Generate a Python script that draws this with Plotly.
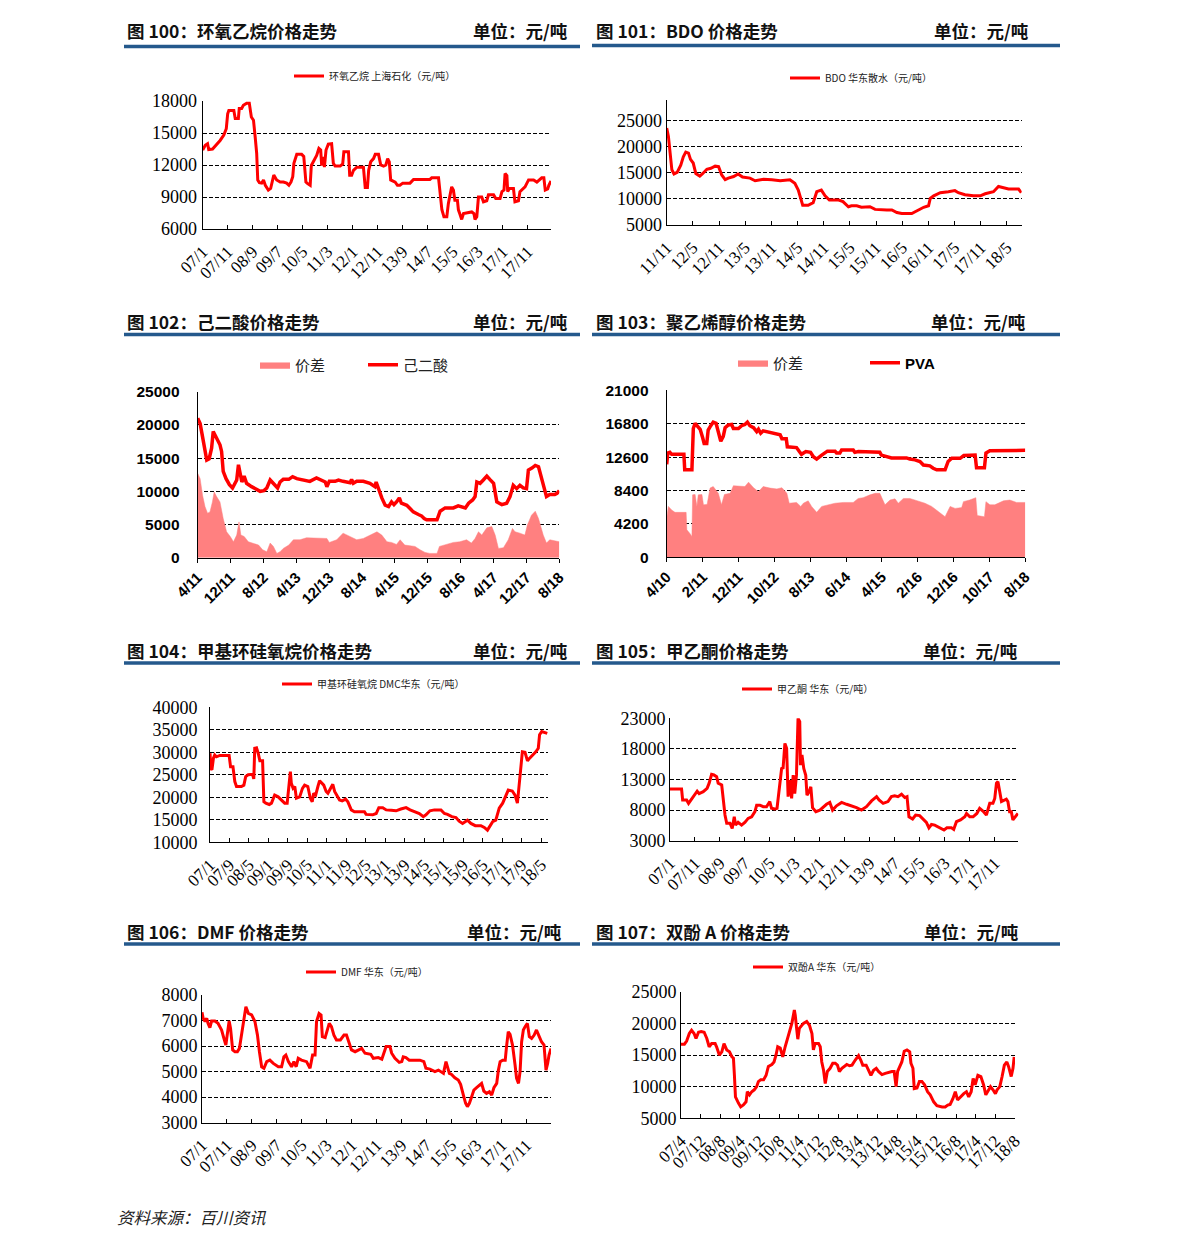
import plotly.graph_objects as go
import pandas as pd

PAGE_W, PAGE_H = 1191, 1247
BODY = 8  # default page margin around the figure
W, H = PAGE_W - 2 * BODY, PAGE_H - 2 * BODY

# ================= DATA =================
# 图100 环氧乙烷 上海石化
eo_dates = ["2007-01-01","2007-02-01","2007-03-01","2007-03-15","2007-05-01","2007-06-15","2007-08-01","2007-09-15","2007-10-15","2007-11-01",
            "2007-11-15","2008-01-15","2008-02-01","2008-03-10","2008-03-21","2008-04-19","2008-05-10","2008-06-19","2008-07-21","2008-08-15",
            "2008-09-10","2008-10-01","2008-10-19","2008-11-01","2008-11-21","2008-12-19","2009-01-10","2009-02-01","2009-03-10","2009-04-07",
            "2009-05-15","2009-06-19","2009-08-01","2009-09-10","2009-10-19","2009-11-15","2009-12-10","2010-01-01","2010-01-15","2010-02-19",
            "2010-04-19","2010-05-15","2010-06-10","2010-07-01","2010-08-01","2010-08-15","2010-09-15","2010-10-19","2010-11-15","2010-12-07",
            "2010-12-19","2011-01-10","2011-01-21","2011-02-10","2011-03-10","2011-04-19","2011-05-10","2011-06-01","2011-08-01","2011-09-01",
            "2011-09-15","2011-11-10","2011-11-25","2011-12-19","2012-01-10","2012-02-19","2012-05-10","2012-06-01","2012-06-28","2012-07-13",
            "2012-08-07","2012-09-10","2012-10-01","2012-11-10","2012-12-07","2013-01-10","2013-02-07","2013-03-01","2013-03-21","2013-04-07",
            "2013-06-01","2013-06-28","2013-07-28","2013-09-01","2013-11-28","2014-01-10","2014-07-28","2014-08-19","2014-11-10","2014-11-28",
            "2014-12-21","2015-01-15","2015-02-19","2015-03-10","2015-03-28","2015-04-19","2015-05-10","2015-05-28","2015-06-28","2015-07-10",
            "2015-07-28","2015-08-19","2015-09-10","2015-12-19","2016-01-15","2016-01-28","2016-02-19","2016-02-28","2016-03-10","2016-04-19",
            "2016-05-10","2016-06-19","2016-07-10","2016-09-10","2016-10-07","2016-11-28","2016-12-21","2017-01-15","2017-01-28","2017-02-19",
            "2017-03-01","2017-03-21","2017-05-10","2017-05-28","2017-07-10","2017-07-28","2017-09-01","2017-09-28","2017-11-10","2018-01-10",
            "2018-02-19","2018-04-19","2018-05-15","2018-06-01","2018-07-01","2018-07-15","2018-08-10"]
eo_price = [13400,13850,14000,13450,13500,13850,14300,14800,15400,16800,
            17100,17100,16350,16350,17300,17300,17600,17800,17800,16500,
            16200,14600,13100,10600,10350,10300,10600,10100,9650,9800,
            11050,10600,10400,10400,10300,10100,10400,10900,12150,13000,
            13000,12800,10400,10250,10100,11950,12450,12900,13550,13400,
            11950,12750,11800,13400,13950,14000,12150,11900,11900,12100,
            13250,13250,11050,11050,11500,11800,11800,9900,9900,11500,
            12300,12600,13000,13000,12000,11900,12000,12600,12300,10600,
            10400,10100,10100,10300,10300,10650,10650,10800,10800,9650,
            7800,7150,7150,8400,9000,9950,9650,8700,8700,7800,
            7400,6900,7450,7600,7450,6900,7150,8100,9000,9000,
            8550,8650,9200,9200,8850,8850,9500,9650,11200,11000,
            9500,9800,9800,8550,8650,9500,9800,9950,10600,10600,
            10400,10800,10800,9650,9750,10100,10500]
eo_ticktext = ["07/1","07/11","08/9","09/7","10/5","11/3","12/1","12/11","13/9","14/7","15/5","16/3","17/1","17/11"]

# 图101 BDO 华东散水
bdo_dates = ["2011-11-01","2011-11-13","2011-11-25","2011-12-07","2011-12-22","2012-01-13","2012-02-07","2012-02-25","2012-03-13","2012-04-01",
             "2012-04-15","2012-05-04","2012-05-22","2012-06-19","2012-07-10","2012-08-07","2012-09-04","2012-10-04","2012-10-28","2012-11-19",
             "2012-12-13","2013-01-04","2013-02-10","2013-03-13","2013-04-13","2013-06-04","2013-07-10","2013-09-07","2013-11-04","2014-01-01",
             "2014-03-10","2014-04-13","2014-05-07","2014-06-07","2014-07-15","2014-08-19","2014-09-13","2014-10-15","2014-11-10","2014-12-10",
             "2015-02-13","2015-03-15","2015-04-22","2015-05-13","2015-06-19","2015-07-22","2015-09-19","2015-10-25","2016-01-15","2016-02-19",
             "2016-03-25","2016-04-28","2016-07-07","2016-08-25","2016-09-28","2016-11-01","2016-11-13","2016-12-07","2017-01-22","2017-03-19",
             "2017-05-04","2017-05-28","2017-07-13","2017-09-10","2017-10-28","2017-12-01","2018-01-07","2018-01-28","2018-03-04","2018-04-07",
             "2018-05-13","2018-07-22","2018-08-10"]
bdo_price = [23600,22000,18800,15600,14800,15100,16500,18100,19000,18800,
             17600,16900,14900,14400,14900,15700,15900,16300,16200,14600,
             13700,14000,14300,14800,14200,14000,13500,13800,13700,13500,
             13700,13000,11700,8800,8800,9300,11400,11700,10600,9800,
             9800,9500,8500,8700,8700,8400,8500,8000,7900,7900,
             7400,7200,7200,7900,8400,8700,10100,10600,11200,11400,
             11600,11200,10800,10600,10600,11000,11200,11400,12400,12200,
             11900,11900,11200]
bdo_ticktext = ["11/11","12/5","12/11","13/5","13/11","14/5","14/11","15/5","15/11","16/5","16/11","17/5","17/11","18/5"]

# 图102 己二酸
aa_dates = ["2011-04-01","2011-04-19","2011-05-07","2011-05-25","2011-06-07","2011-06-25","2011-07-13","2011-07-25","2011-08-07","2011-08-25",
            "2011-09-13","2011-09-25","2011-10-07","2011-10-28","2011-11-22","2011-12-15","2012-01-04","2012-01-15","2012-01-28","2012-02-10",
            "2012-02-22","2012-03-10","2012-03-28","2012-05-04","2012-06-13","2012-07-07","2012-08-04","2012-08-25","2012-09-19","2012-10-13",
            "2012-11-13","2012-12-01","2012-12-25","2013-02-04","2013-03-04","2013-04-04","2013-06-04","2013-07-10","2013-08-28","2013-10-07",
            "2013-11-01","2013-11-13","2013-12-01","2014-01-13","2014-02-07","2014-03-13","2014-05-04","2014-05-15","2014-05-28","2014-06-22",
            "2014-08-10","2014-09-28","2014-11-04","2014-11-13","2014-12-01","2014-12-25","2015-01-19","2015-02-13","2015-03-07","2015-03-25",
            "2015-04-13","2015-05-04","2015-05-19","2015-06-28","2015-07-22","2015-08-15","2015-09-22","2015-10-15","2015-11-04","2015-11-22",
            "2015-12-28","2016-02-07","2016-03-01","2016-04-07","2016-06-07","2016-07-13","2016-09-04","2016-09-28","2016-10-28","2016-11-15",
            "2016-11-28","2016-12-22","2017-01-15","2017-02-10","2017-03-04","2017-04-01","2017-04-25","2017-06-01","2017-07-07","2017-08-01",
            "2017-08-25","2017-09-19","2017-10-13","2017-11-07","2017-12-01","2017-12-15","2018-01-10","2018-02-04","2018-02-28","2018-03-22",
            "2018-04-10","2018-04-28","2018-05-22","2018-06-28","2018-07-15","2018-08-01"]
aa_price = [21000,20200,18200,16000,14700,14900,16500,19000,18500,17700,
            17000,16000,13000,11900,11000,10500,11400,11700,14000,12400,
            11400,12300,11200,10700,10300,10000,10100,10500,11700,11200,
            10500,11400,11800,11800,12200,11900,11700,11500,12000,11700,
            11400,10700,11500,11500,11700,11500,11300,11800,11200,11500,
            11500,11200,10700,11400,10200,9000,7900,7700,8400,8000,
            8400,9000,8200,7900,7400,6900,6500,6300,5900,5700,
            5700,5700,7000,7500,7500,7800,7500,8200,8700,9200,
            11400,11200,11700,12300,11800,11200,8400,8000,8200,9200,
            10900,10400,10900,10500,10400,13200,13500,13900,13700,11900,
            10200,9200,9500,9500,9700,10100]
aa_spread_dates = ["2011-04-01","2011-04-19","2011-05-07","2011-05-25","2011-06-13","2011-07-01","2011-07-19","2011-08-01","2011-08-19","2011-09-13",
                   "2011-10-07","2011-11-01","2011-11-28","2011-12-22","2012-01-15","2012-02-01","2012-02-15","2012-03-10","2012-04-10","2012-05-15",
                   "2012-06-25","2012-07-25","2012-08-25","2012-09-19","2012-10-13","2012-11-07","2012-12-01","2012-12-25","2013-02-04","2013-03-10",
                   "2013-04-28","2013-06-15","2013-08-04","2013-09-25","2013-11-13","2013-12-01","2014-01-25","2014-03-13","2014-05-04","2014-06-22",
                   "2014-08-10","2014-09-28","2014-11-19","2014-12-25","2015-02-01","2015-03-07","2015-04-13","2015-05-10","2015-06-13","2015-07-22",
                   "2015-08-28","2015-10-04","2015-11-10","2015-12-15","2016-02-07","2016-02-25","2016-04-07","2016-06-07","2016-07-25","2016-09-13",
                   "2016-10-19","2016-11-15","2016-12-10","2017-01-04","2017-02-10","2017-03-19","2017-04-13","2017-05-07","2017-06-13","2017-07-19",
                   "2017-08-19","2017-09-07","2017-10-13","2017-11-19","2017-12-07","2018-01-07","2018-02-04","2018-02-28","2018-04-04","2018-04-28",
                   "2018-05-22","2018-06-28","2018-08-01"]
aa_spread = [12700,11900,9400,7700,6700,6900,8400,9900,9200,8400,
             5900,3900,3200,2400,3400,5400,3400,3200,2400,2200,
             1900,1200,900,2200,1700,650,900,1400,1900,2700,
             2700,3000,3000,3000,2900,2300,2700,3700,3200,2700,
             2900,3400,3900,3400,2400,2300,2000,2700,1900,1800,
             1700,1200,800,650,650,1700,1900,2300,2400,2700,
             2200,2900,3900,3400,4500,4700,3400,1400,1500,2700,
             4400,3900,3700,3400,4900,6400,7000,5900,3400,2200,
             2700,2500,2400]
aa_ticktext = ["4/11","12/11","8/12","4/13","12/13","8/14","4/15","12/15","8/16","4/17","12/17","8/18"]

# 图103 聚乙烯醇 PVA
pva_dates = ["2010-04-01","2010-04-10","2010-04-28","2010-05-13","2010-08-25","2010-09-01","2010-11-01","2010-11-07","2010-11-13","2010-11-28",
             "2010-12-19","2011-01-10","2011-02-01","2011-02-13","2011-03-07","2011-03-19","2011-04-10","2011-05-01","2011-05-25","2011-06-13",
             "2011-07-04","2011-07-25","2011-08-10","2011-09-07","2011-10-04","2011-10-19","2011-12-01","2011-12-28","2012-01-25","2012-02-15",
             "2012-03-07","2012-04-07","2012-05-04","2012-05-19","2012-06-07","2012-06-28","2012-08-25","2012-10-07","2012-11-19","2012-12-04",
             "2013-01-10","2013-01-19","2013-04-07","2013-05-01","2013-05-19","2013-06-25","2013-08-04","2013-08-28","2013-09-25","2013-11-07",
             "2013-12-25","2014-02-28","2014-03-13","2014-04-10","2014-04-25","2014-08-01","2014-08-15","2014-09-13","2014-11-25","2014-12-22",
             "2015-03-15","2015-03-28","2015-05-10","2015-06-22","2015-10-28","2015-11-25","2016-01-07","2016-02-19","2016-03-19","2016-05-13",
             "2016-06-10","2016-07-10","2016-09-19","2016-10-15","2016-11-15","2017-01-25","2017-02-25","2017-06-01","2017-06-13","2017-08-19",
             "2017-09-01","2017-10-04","2018-08-01"]
pva_price = [11700,13100,13200,12950,12950,11000,11000,15200,16200,16850,
             16400,16100,15000,14300,14300,16000,16550,17000,16850,15600,
             14600,15200,16300,16650,16700,16200,16200,16550,16700,17000,
             16550,16300,15800,16100,15600,15900,15700,15600,15400,14900,
             14900,13900,13800,13300,12950,13300,13200,12650,12350,12850,
             13350,13350,13100,13100,13500,13500,13200,13300,13300,13200,
             13200,12850,12650,12500,12500,12350,12250,12050,11600,11500,
             11200,11000,11000,12050,12450,12450,12800,12850,11250,11250,
             13100,13400,13450]
pva_spread_dates = ["2010-04-01","2010-04-15","2010-05-13","2010-06-10","2010-09-13","2010-09-19","2010-10-15","2010-11-01","2010-11-07","2010-11-28",
                    "2010-12-13","2010-12-25","2011-01-25","2011-02-07","2011-03-10","2011-04-04","2011-05-01","2011-06-13","2011-07-10","2011-08-04",
                    "2011-09-22","2011-10-19","2012-01-25","2012-02-25","2012-04-07","2012-05-19","2012-06-28","2012-08-25","2012-10-22","2012-12-04",
                    "2013-01-15","2013-02-04","2013-04-07","2013-05-13","2013-06-04","2013-07-15","2013-08-13","2013-09-25","2013-11-07","2014-01-04",
                    "2014-02-28","2014-05-10","2014-08-01","2014-09-13","2014-10-25","2014-12-22","2015-02-04","2015-03-15","2015-04-28","2015-06-10",
                    "2015-07-22","2015-08-19","2015-10-01","2015-11-25","2016-02-07","2016-04-01","2016-05-28","2016-07-22","2016-09-19","2016-11-01",
                    "2016-12-13","2017-02-07","2017-02-22","2017-04-15","2017-06-07","2017-06-19","2017-08-19","2017-09-01","2017-10-04","2017-11-15",
                    "2018-01-28","2018-03-22","2018-05-19","2018-08-01"]
pva_spread = [4900,6400,5950,5650,5650,3450,3000,2600,7850,7900,
              6400,7850,7900,6600,6650,8700,8900,8050,6600,7900,
              8050,9000,8900,9450,8750,8250,8900,8700,8600,8750,
              8050,6800,6900,6400,6800,7100,6400,5650,6400,6600,
              6800,6900,6900,7400,7500,7850,8050,8050,6600,7200,
              7350,6800,7400,7400,7100,6800,6400,5750,5100,6400,
              6150,6250,7000,7200,7500,5250,5100,7000,6600,6600,
              7100,7200,6900,6900]
pva_ticktext = ["4/10","2/11","12/11","10/12","8/13","6/14","4/15","2/16","12/16","10/17","8/18"]

# 图104 甲基环硅氧烷 DMC 华东
dmc_dates = ["2007-01-01","2007-01-13","2007-01-25","2007-02-13","2007-03-01","2007-03-22","2007-05-04","2007-07-25","2007-08-28","2007-09-15",
             "2007-10-15","2007-11-07","2007-11-28","2008-01-28","2008-02-28","2008-03-22","2008-04-22","2008-06-15","2008-07-01","2008-07-13",
             "2008-08-04","2008-08-25","2008-09-15","2008-10-19","2008-11-04","2008-11-28","2009-01-10","2009-02-07","2009-02-28","2009-03-19",
             "2009-05-01","2009-06-10","2009-07-22","2009-08-22","2009-09-10","2009-10-01","2009-10-13","2009-11-04","2009-11-25","2009-12-15",
             "2010-01-25","2010-03-01","2010-03-28","2010-05-07","2010-06-07","2010-07-01","2010-07-19","2010-08-13","2010-09-10","2010-10-01",
             "2010-11-22","2010-12-22","2011-01-13","2011-02-13","2011-03-15","2011-04-07","2011-05-04","2011-06-07","2011-07-10","2011-08-22",
             "2011-09-19","2011-11-01","2011-12-10","2012-03-04","2012-04-13","2012-05-04","2012-07-25","2012-09-07","2012-10-10","2012-11-28",
             "2013-01-10","2013-03-13","2013-05-13","2013-07-13","2013-09-15","2013-11-04","2013-12-28","2014-02-28","2014-04-19","2014-05-22",
             "2014-07-10","2014-09-04","2014-11-25","2015-01-07","2015-02-15","2015-04-10","2015-06-01","2015-07-10","2015-08-22","2015-10-22",
             "2015-12-04","2016-01-28","2016-04-07","2016-05-19","2016-06-28","2016-07-28","2016-09-01","2016-10-10","2016-11-22","2017-01-04",
             "2017-02-13","2017-03-15","2017-05-04","2017-06-07","2017-07-07","2017-07-28","2017-08-19","2017-09-07","2017-10-10","2017-11-10",
             "2017-12-07","2018-01-10","2018-02-22","2018-03-25","2018-04-10","2018-05-07","2018-06-15","2018-07-15"]
dmc_price = [29800,26400,26100,28700,29400,29000,29300,29400,29300,26800,
             26800,23500,22400,22400,22700,24600,25000,25100,24100,30900,
             31000,29800,28100,28100,19000,18700,18400,18700,19900,20500,
             20100,19400,18700,18700,22000,25700,23100,22000,22400,19800,
             20100,22000,22700,22400,19800,19000,20900,20500,22400,23700,
             22700,21300,20900,22000,22900,21300,20500,19400,19200,19600,
             19000,17200,16800,16800,16800,16200,16100,16400,17700,17700,
             17200,17100,17000,17400,17700,17200,16800,16400,15700,16100,
             17000,17200,17200,16400,16200,15700,15500,14700,14200,14900,
             14200,13700,13700,13300,12700,13500,14600,14900,17600,18700,
             20500,21600,21400,20500,18700,22400,26400,30100,30000,28100,
             28700,29300,30100,30900,33900,34600,34400,34200]
dmc_ticktext = ["07/1","07/9","08/5","09/1","09/9","10/5","11/1","11/9","12/5","13/1","13/9","14/5","15/1","15/9","16/5","17/1","17/9","18/5"]

# 图105 甲乙酮 华东
mek_dates = ["2007-01-01","2007-05-22","2007-06-04","2007-07-22","2007-08-15","2007-09-22","2007-11-01","2007-11-28","2007-12-22","2008-02-10",
             "2008-03-28","2008-04-22","2008-05-22","2008-06-19","2008-07-22","2008-08-10","2008-09-22","2008-10-10","2008-11-01","2008-11-22",
             "2009-01-01","2009-01-28","2009-02-22","2009-03-10","2009-04-10","2009-05-22","2009-07-01","2009-08-10","2009-09-22","2009-11-01",
             "2009-11-22","2010-01-01","2010-02-10","2010-03-22","2010-05-01","2010-05-22","2010-07-01","2010-07-28","2010-08-15","2010-09-01",
             "2010-09-22","2010-10-10","2010-11-01","2010-11-22","2010-12-10","2011-01-01","2011-01-22","2011-02-10","2011-03-01","2011-03-22",
             "2011-04-10","2011-05-01","2011-05-10","2011-05-28","2011-06-19","2011-07-13","2011-07-28","2011-08-22","2011-09-13","2011-10-04",
             "2011-11-13","2012-01-01","2012-02-10","2012-03-22","2012-05-01","2012-06-04","2012-07-22","2012-09-22","2012-11-22","2013-01-22",
             "2013-03-22","2013-05-22","2013-07-22","2013-09-22","2013-11-22","2013-12-22","2014-02-10","2014-04-10","2014-05-22","2014-07-01",
             "2014-08-10","2014-09-22","2014-11-01","2014-11-28","2014-12-22","2015-02-04","2015-03-13","2015-05-01","2015-06-10","2015-07-22",
             "2015-08-22","2015-09-22","2015-11-01","2015-12-10","2016-01-22","2016-02-22","2016-03-28","2016-05-22","2016-06-19","2016-07-22",
             "2016-09-10","2016-11-01","2016-11-22","2017-01-01","2017-02-10","2017-03-28","2017-05-01","2017-06-10","2017-07-22","2017-09-01",
             "2017-10-10","2017-11-01","2017-11-22","2017-12-10","2018-01-01","2018-01-22","2018-03-22","2018-04-10","2018-05-01","2018-05-22",
             "2018-06-10","2018-07-04","2018-08-10"]
mek_price = [11450,11450,9650,9650,9100,9900,10600,11100,10700,11000,
             11550,12400,13850,13750,13450,12400,12100,9400,7200,5850,
             5850,5000,6900,5550,6000,5550,6000,6650,6900,7750,
             8800,8800,8550,8550,9400,8300,8200,8300,10450,11800,
             14800,14900,18900,18100,10200,12900,9900,13700,10700,13750,
             23000,22450,15350,17000,14800,13700,10450,11000,11800,8400,
             7750,8000,8550,8950,9250,8000,8700,9250,8950,8700,
             8400,8000,8550,9500,10200,9650,9100,9400,10200,10350,
             10200,10600,10050,10200,6900,6550,7200,7100,6550,6000,
             5100,5650,5550,5300,5000,4750,5100,5100,4850,6100,
             6400,6900,7450,6900,6900,7450,8300,7850,7200,9100,
             9100,9900,12400,12650,11000,9400,9800,9400,7750,7750,
             6400,6900,7450]
mek_ticktext = eo_ticktext

# 图106 DMF 华东
dmf_dates = ["2007-01-01","2007-01-15","2007-02-07","2007-02-28","2007-03-15","2007-04-07","2007-04-28","2007-06-07","2007-07-15","2007-08-28",
             "2007-09-25","2007-10-19","2007-11-04","2007-11-28","2007-12-15","2008-01-10","2008-02-07","2008-03-07","2008-04-01","2008-04-28",
             "2008-05-25","2008-06-19","2008-07-19","2008-08-28","2008-10-07","2008-11-07","2008-12-01","2008-12-28","2009-01-25","2009-02-28",
             "2009-04-07","2009-05-19","2009-07-19","2009-08-28","2009-09-25","2009-10-19","2009-11-19","2009-12-28","2010-01-25","2010-02-22",
             "2010-03-19","2010-04-28","2010-06-28","2010-08-10","2010-09-10","2010-10-10","2010-10-28","2010-11-28","2010-12-22","2011-01-07",
             "2011-02-10","2011-03-07","2011-04-01","2011-04-28","2011-05-28","2011-06-28","2011-08-15","2011-09-28","2011-10-28","2011-12-01",
             "2011-12-28","2012-02-10","2012-04-01","2012-05-01","2012-06-10","2012-08-19","2012-09-19","2012-11-19","2013-01-01","2013-01-28",
             "2013-02-22","2013-04-10","2013-05-01","2013-06-10","2013-08-01","2013-09-01","2013-09-19","2013-10-22","2013-12-01","2014-01-19",
             "2014-04-10","2014-05-28","2014-06-22","2014-08-10","2014-10-10","2014-11-22","2014-12-19","2015-01-22","2015-02-22","2015-03-10",
             "2015-04-04","2015-05-01","2015-06-10","2015-07-22","2015-08-19","2015-09-22","2015-10-19","2015-11-10","2015-12-04","2016-01-01",
             "2016-01-28","2016-03-01","2016-04-04","2016-05-01","2016-05-28","2016-07-01","2016-08-04","2016-09-01","2016-09-28","2016-11-01",
             "2016-11-22","2016-12-13","2017-01-13","2017-02-13","2017-03-01","2017-03-22","2017-04-13","2017-05-13","2017-06-13","2017-07-01",
             "2017-07-25","2017-08-13","2017-09-01","2017-09-22","2017-10-13","2017-11-10","2017-12-04","2018-01-01","2018-02-01","2018-03-01",
             "2018-04-04","2018-05-01","2018-06-01","2018-06-25","2018-07-15","2018-08-01","2018-08-25"]
dmf_price = [7320,7090,6960,7090,6890,6720,6980,6980,6890,6630,
             6300,6040,6430,6980,6690,5850,5780,5780,5910,6430,
             6960,7540,7280,7220,6960,6430,5780,5190,5130,5390,
             5450,5320,5190,5190,5580,5650,5390,5190,5390,5190,
             5520,5450,5390,5130,5650,5650,6960,7280,7220,6370,
             6330,6630,6890,6760,6430,6240,6240,6430,6430,6110,
             5850,5780,5850,5910,5720,5680,5520,5550,5490,5780,
             5980,5980,5720,5520,5360,5390,5580,5550,5450,5450,
             5450,5390,5130,5100,5000,5060,5000,4930,5390,5190,
             4930,4890,4760,4670,4500,4080,3760,3630,3760,4020,
             4280,4370,4470,4540,4240,4150,4210,4080,4370,4540,
             5060,5390,5450,5450,5980,6560,6460,6040,5260,4740,
             4540,5000,6170,6630,6760,6890,6370,6300,6430,6630,
             6370,6170,6040,5060,5320,5650,5910]
dmf_ticktext = eo_ticktext

# 图107 双酚A 华东
bpa_dates = ["2007-04-01","2007-05-13","2007-06-10","2007-07-13","2007-08-10","2007-09-10","2007-10-04","2007-11-04","2007-12-07","2008-01-13",
             "2008-02-15","2008-03-15","2008-04-15","2008-05-28","2008-06-15","2008-07-19","2008-08-19","2008-09-15","2008-10-19","2008-11-22",
             "2008-12-22","2009-01-10","2009-01-22","2009-02-04","2009-03-13","2009-04-10","2009-05-13","2009-06-15","2009-07-01","2009-07-28",
             "2009-08-25","2009-09-25","2009-10-25","2009-11-15","2009-12-15","2010-01-19","2010-02-19","2010-03-19","2010-05-01","2010-05-28",
             "2010-06-22","2010-07-13","2010-08-13","2010-09-13","2010-10-13","2010-11-10","2010-12-07","2011-01-04","2011-02-04","2011-02-15",
             "2011-03-04","2011-03-19","2011-04-07","2011-05-28","2011-07-07","2011-08-10","2011-09-10","2011-09-28","2011-10-19","2011-12-01",
             "2011-12-22","2012-01-10","2012-02-01","2012-02-22","2012-03-19","2012-04-22","2012-05-25","2012-06-25","2012-07-22","2012-08-15",
             "2012-09-15","2012-10-13","2012-11-15","2012-12-19","2013-01-19","2013-02-28","2013-04-10","2013-05-07","2013-06-01","2013-07-13",
             "2013-08-13","2013-09-10","2013-10-13","2013-11-15","2013-12-13","2014-01-25","2014-03-07","2014-04-28","2014-05-28","2014-06-25",
             "2014-07-19","2014-08-07","2014-09-10","2014-09-28","2014-10-28","2014-12-01","2015-01-04","2015-01-19","2015-02-13","2015-03-01",
             "2015-04-04","2015-05-04","2015-06-04","2015-07-07","2015-08-13","2015-09-15","2015-10-28","2015-12-07","2016-02-10","2016-03-19",
             "2016-04-19","2016-05-19","2016-06-22","2016-07-22","2016-08-19","2016-09-22","2016-11-04","2016-12-07","2017-01-04","2017-02-04",
             "2017-02-28","2017-03-25","2017-04-28","2017-06-04","2017-07-07","2017-08-04","2017-09-10","2017-10-01","2017-11-01","2017-12-01",
             "2017-12-22","2018-01-25","2018-02-22","2018-03-22","2018-04-22","2018-05-13","2018-06-15","2018-07-07","2018-07-22"]
bpa_price = [16700,16700,17200,18400,18900,18400,17600,18600,18700,18600,
             17600,16300,16800,16800,16300,15000,15500,16800,15800,15500,
             14700,14500,11800,8400,7400,6800,7100,7600,9200,8700,
             9200,9500,10000,10800,11100,11100,11800,13200,13500,13900,
             15000,16300,16100,14700,16300,17600,18700,20000,22100,21300,
             19200,17500,19200,20000,20300,19700,18400,15800,16800,16800,
             16300,13900,12600,10500,12400,12900,13700,13700,13400,12400,
             12900,13200,13500,13300,13400,14200,14900,14200,13400,13400,
             12600,11800,12600,12900,12400,11900,12100,12300,12400,12400,
             10000,12400,13400,13900,15600,15800,15500,13700,12900,9700,
             9800,10800,10800,10300,9200,8700,7600,7000,6800,6800,
             7100,7200,8100,9200,7900,8400,8900,9200,8400,9200,
             11300,10300,11800,11600,10300,8700,9500,10000,9500,8900,
             9500,10000,11600,13400,13900,13200,11600,12900,14700]
bpa_ticktext = ["07/4","07/12","08/8","09/4","09/12","10/8","11/4","11/12","12/8","13/4","13/12","14/8","15/4","15/12","16/8","17/4","17/12","18/8"]


def months(start, n, step):
    return [d.strftime("%Y-%m-%d") for d in pd.date_range(start, periods=n, freq=f"{step}MS")]


# ================= LAYOUT HELPERS (page pixel -> paper fraction) =================
def X(p):
    return (p - BODY) / W


def Y(p):
    return 1 - (p - BODY) / H


SERIF = "Liberation Serif, Times New Roman, serif"
SANS = "Liberation Sans, Arial, sans-serif"
CJK = "Noto Sans CJK SC, Noto Sans, sans-serif"
RED = "#FF0000"
PINK = "#FF8080"
BLUE = "#24598C"

serif_x = dict(family=SERIF, size=17, color="black")
serif_y = dict(family=SERIF, size=18, color="black")
sans_x = dict(family=SANS, size=15, color="black", weight="bold")
sans_y = dict(family=SANS, size=15.5, color="black", weight="bold")

panels = [
    dict(x0=202.7, x1=551, yt=101, yb=229, xr=["2007-01-01", "2018-08-10"], yr=[6000, 18000],
         yt_vals=[6000, 9000, 12000, 15000, 18000], xt=months("2007-01-01", 14, 10), xl=eo_ticktext,
         fx=serif_x, fy=serif_y, ticks="inside", ystand=1),
    dict(x0=666.7, x1=1021.7, yt=100, yb=225, xr=["2011-11-01", "2018-08-13"], yr=[5000, 29000],
         yt_vals=[5000, 10000, 15000, 20000, 25000], xt=months("2011-11-01", 14, 6), xl=bdo_ticktext,
         fx=serif_x, fy=serif_y, ticks="inside", ystand=0),
    dict(x0=197.7, x1=559.3, yt=391.7, yb=557.7, xr=["2011-04-01", "2018-08-01"], yr=[0, 25000],
         yt_vals=[0, 5000, 10000, 15000, 20000, 25000], xt=months("2011-04-01", 12, 8), xl=aa_ticktext,
         fx=sans_x, fy=sans_y, ticks="outside", ystand=14),
    dict(x0=666.7, x1=1025.3, yt=390.3, yb=557.3, xr=["2010-04-01", "2018-08-01"], yr=[0, 21000],
         yt_vals=[0, 4200, 8400, 12600, 16800, 21000], xt=months("2010-04-01", 11, 10), xl=pva_ticktext,
         fx=sans_x, fy=sans_y, ticks="outside", ystand=14),
    dict(x0=210, x1=548.3, yt=707.3, yb=842.3, xr=["2007-01-01", "2018-07-28"], yr=[10000, 40000],
         yt_vals=[10000, 15000, 20000, 25000, 30000, 35000, 40000], xt=months("2007-01-01", 18, 8), xl=dmc_ticktext,
         fx=serif_x, fy=serif_y, ticks="inside", ystand=8),
    dict(x0=670, x1=1018.3, yt=718.3, yb=840.7, xr=["2007-01-01", "2018-08-15"], yr=[3000, 23000],
         yt_vals=[3000, 8000, 13000, 18000, 23000], xt=months("2007-01-01", 14, 10), xl=mek_ticktext,
         fx=serif_x, fy=serif_y, ticks="inside", ystand=0),
    dict(x0=202, x1=551, yt=995, yb=1122.7, xr=["2007-01-01", "2018-08-25"], yr=[3000, 8000],
         yt_vals=[3000, 4000, 5000, 6000, 7000, 8000], xt=months("2007-01-01", 14, 10), xl=dmf_ticktext,
         fx=serif_x, fy=serif_y, ticks="inside", ystand=0),
    dict(x0=681, x1=1015, yt=991.7, yb=1118.3, xr=["2007-04-01", "2018-08-01"], yr=[5000, 25000],
         yt_vals=[5000, 10000, 15000, 20000, 25000], xt=months("2007-04-01", 18, 8), xl=bpa_ticktext,
         fx=serif_x, fy=serif_y, ticks="inside", ystand=0),
]

fig = go.Figure()

layout_axes = {}
for i, p in enumerate(panels, start=1):
    sfx = "" if i == 1 else str(i)
    layout_axes["xaxis" + sfx] = dict(
        domain=[X(p["x0"]), X(p["x1"])], anchor="y" + sfx, type="date", range=p["xr"],
        tickmode="array", tickvals=p["xt"], ticktext=p["xl"], tickangle=-45,
        ticks=p["ticks"], ticklen=4, tickwidth=1, tickcolor="black",
        showline=True, linecolor="black", linewidth=1, showgrid=False, zeroline=False,
        tickfont=p["fx"], ticklabelstandoff=(5 if p["ticks"] == "inside" else 0),
        fixedrange=True, automargin=False,
    )
    layout_axes["yaxis" + sfx] = dict(
        domain=[Y(p["yb"]), Y(p["yt"])], anchor="x" + sfx, range=p["yr"],
        tickmode="array", tickvals=p["yt_vals"], tickformat="d",
        showline=True, linecolor="black", linewidth=1, ticks="",
        showgrid=True, gridcolor="black", gridwidth=1, griddash="4px,2px",
        zeroline=False, tickfont=p["fy"], ticklabelstandoff=p["ystand"],
        fixedrange=True, automargin=False,
    )

# ================= TRACES =================
def line_trace(x, y, name, ax, legend, width=3):
    return go.Scatter(x=x, y=y, mode="lines", name=name, line=dict(color=RED, width=width),
                      xaxis="x" + ax, yaxis="y" + ax, legend=legend, hoverinfo="skip")


def area_trace(x, y, name, ax, legend):
    return go.Scatter(x=x, y=y, mode="lines", name=name, fill="tozeroy", fillcolor=PINK,
                      line=dict(color=PINK, width=0.5), xaxis="x" + ax, yaxis="y" + ax,
                      legend=legend, hoverinfo="skip")


fig.add_trace(line_trace(eo_dates, eo_price, "环氧乙烷 上海石化（元/吨）", "", "legend"))
fig.add_trace(line_trace(bdo_dates, bdo_price, "BDO 华东散水（元/吨）", "2", "legend2"))
fig.add_trace(area_trace(aa_spread_dates, aa_spread, "价差", "3", "legend3"))
fig.add_trace(line_trace(aa_dates, aa_price, "己二酸", "3", "legend4", width=3.5))
fig.add_trace(area_trace(pva_spread_dates, pva_spread, "价差", "4", "legend5"))
fig.add_trace(line_trace(pva_dates, pva_price, "PVA", "4", "legend6", width=3.5))
fig.add_trace(line_trace(dmc_dates, dmc_price, "甲基环硅氧烷 DMC华东（元/吨）", "5", "legend7"))
fig.add_trace(line_trace(mek_dates, mek_price, "甲乙酮 华东（元/吨）", "6", "legend8"))
fig.add_trace(line_trace(dmf_dates, dmf_price, "DMF 华东（元/吨）", "7", "legend9"))
fig.add_trace(line_trace(bpa_dates, bpa_price, "双酚A 华东（元/吨）", "8", "legend10"))

small_leg = dict(family=CJK, size=10, color="#222222")
big_leg = dict(family=CJK, size=15, color="#222222")
pva_leg = dict(family=SANS, size=15, color="black", weight="bold")


def legend_at(text_x, y_c, font):
    return dict(x=X(text_x - 42), y=Y(y_c), xanchor="left", yanchor="middle", orientation="h",
                font=font, bgcolor="rgba(0,0,0,0)", borderwidth=0)


legends = {
    "legend": legend_at(331, 76, small_leg),
    "legend2": legend_at(827, 78, small_leg),
    "legend3": legend_at(297, 365, big_leg),
    "legend4": legend_at(405, 365, big_leg),
    "legend5": legend_at(775, 363, big_leg),
    "legend6": legend_at(907, 363, pva_leg),
    "legend7": legend_at(319, 684, small_leg),
    "legend8": legend_at(779, 689, small_leg),
    "legend9": legend_at(343, 972, small_leg),
    "legend10": legend_at(790, 967, small_leg),
}

# ================= HEADERS =================
titles = [
    ("图 100：环氧乙烷价格走势", 125, 570, 30, 46.5, 124, 580),
    ("图 101：BDO 价格走势", 594, 1031, 30, 45.5, 592, 1060),
    ("图 102：己二酸价格走势", 125, 570, 321.5, 334.5, 124, 580),
    ("图 103：聚乙烯醇价格走势", 594, 1028, 321.5, 334.5, 592, 1060),
    ("图 104：甲基环硅氧烷价格走势", 125, 570, 650, 663, 124, 580),
    ("图 105：甲乙酮价格走势", 594, 1020, 650, 663, 592, 1060),
    ("图 106：DMF 价格走势", 125, 564, 931, 944, 124, 580),
    ("图 107：双酚 A 价格走势", 594, 1021, 931, 944, 592, 1060),
]
title_font = dict(family=CJK, size=17.5, color="#111111", weight="bold")
annotations = []
shapes = []
for text, tx, ux, ty, ly, lx0, lx1 in titles:
    annotations.append(dict(text=text, x=X(tx), y=Y(ty), xref="paper", yref="paper",
                            xanchor="left", yanchor="middle", showarrow=False, font=title_font))
    annotations.append(dict(text="单位：元/吨", x=X(ux), y=Y(ty), xref="paper", yref="paper",
                            xanchor="right", yanchor="middle", showarrow=False, font=title_font))
    shapes.append(dict(type="line", xref="paper", yref="paper", x0=X(lx0), x1=X(lx1), y0=Y(ly), y1=Y(ly),
                       line=dict(color=BLUE, width=3.5)))

annotations.append(dict(text="资料来源：百川资讯", x=X(115), y=Y(1217), xref="paper", yref="paper",
                        xanchor="left", yanchor="middle", showarrow=False,
                        font=dict(family=CJK, size=16.5, color="#222222", style="italic")))

fig.update_layout(
    width=W, height=H, margin=dict(l=0, r=0, t=0, b=0, pad=0, autoexpand=False),
    paper_bgcolor="white", plot_bgcolor="white",
    showlegend=True, annotations=annotations, shapes=shapes,
    **layout_axes, **legends,
)

fig.write_html("out.html", config={"displayModeBar": False})
